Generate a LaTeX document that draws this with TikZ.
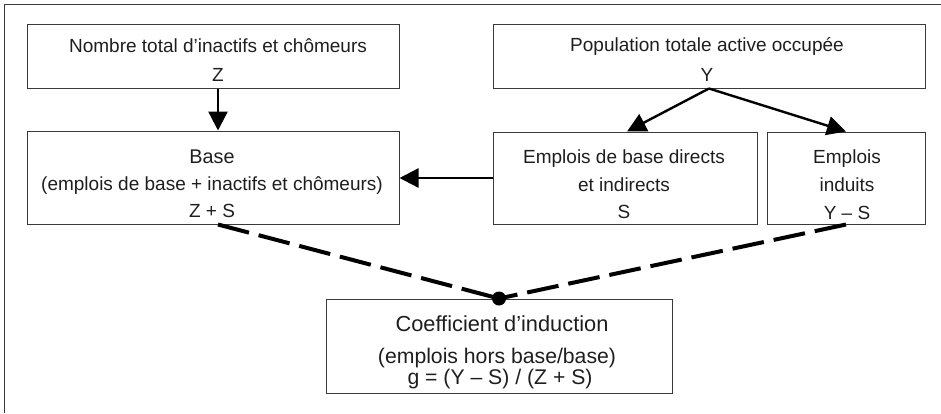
\documentclass[tikz,border=0pt]{standalone}
\usepackage{fontspec}
\setmainfont{Liberation Sans}
\usetikzlibrary{arrows.meta}
\definecolor{ink}{HTML}{1E1E1E}
\definecolor{boxline}{HTML}{3A3A3A}
\tikzset{
  box/.style={draw=boxline, line width=0.5pt, rectangle, inner sep=0pt},
  txt/.style={inner sep=0pt, anchor=base, text=ink, font=\fontsize{9.5}{11}\selectfont},
  txtbig/.style={txt, font=\fontsize{10.6}{12}\selectfont},
  arr/.style={draw=black, line width=1.2pt, -{Triangle[length=9.5pt,width=9.5pt]}},
  dashcon/.style={draw=black, line width=2pt, dash pattern=on 16pt off 5pt},
  frame/.style={draw=boxline, line width=0.7pt}
}
\begin{document}
\begin{tikzpicture}[x=0.5pt, y=-0.5pt]
\useasboundingbox (0,0) rectangle (941,413);
% frame (top and left only)
\draw[frame] (4.5,413) -- (4.5,4.5) -- (941,4.5);
% boxes
\node[box, minimum width=186pt, minimum height=32pt] (nomb) at (213,56) {};
\node[box, minimum width=186pt, minimum height=46.5pt] (base) at (213,177.5) {};
\node[box, minimum width=216pt, minimum height=32pt] (pop) at (709,56) {};
\node[box, minimum width=132pt, minimum height=46pt] (eb) at (625,178) {};
\node[box, minimum width=79pt, minimum height=46pt] (ei) at (846,178) {};
\node[box, minimum width=173pt, minimum height=47pt] (coef) at (499,346) {};
% texts
\node[txt] (n1) at (218,52) {Nombre total d’inactifs et chômeurs};
\node[txt] (n2) at (218,81) {Z};
\node[txt, font=\fontsize{9.9}{12}\selectfont] (b1) at (212,163) {Base};
\node[txt] (b2) at (212,190) {(emplois de base + inactifs et chômeurs)};
\node[txt] (b3) at (212,217) {Z + S};
\node[txt] (p1) at (707,51) {Population totale active occupée};
\node[txt] (p2) at (707,81) {Y};
\node[txt] (e1) at (624,163) {Emplois de base directs};
\node[txt] (e2) at (624,191) {et indirects};
\node[txt] (e3) at (624,218) {S};
\node[txt] (i1) at (847,163) {Emplois};
\node[txt] (i2) at (847,191) {induits};
\node[txt] (i3) at (847,219) {Y – S};
\node[txt, font=\fontsize{10.9}{12}\selectfont] (c1) at (502,331) {Coefficient d’induction};
\node[txtbig] (c2) at (497,363) {(emplois hors base/base)};
\node[txtbig] (c3) at (500,384) {g = (Y – S) / (Z + S)};
% connectors
\coordinate (zx) at (218,0);
\draw[arr] (nomb.south -| zx) -- (base.north -| zx);
\draw[arr] (pop.south) -- ([xshift=1pt]eb.north);
\draw[arr] (pop.south) -- (ei.north);
\draw[arr] (eb.west) -- (eb.west -| base.east);
\draw[dashcon] ([xshift=2.5pt]base.south) -- (coef.north);
\draw[dashcon] (ei.south) -- (coef.north);
\fill[black] (coef.north) circle (3.5pt);
\end{tikzpicture}
\end{document}
